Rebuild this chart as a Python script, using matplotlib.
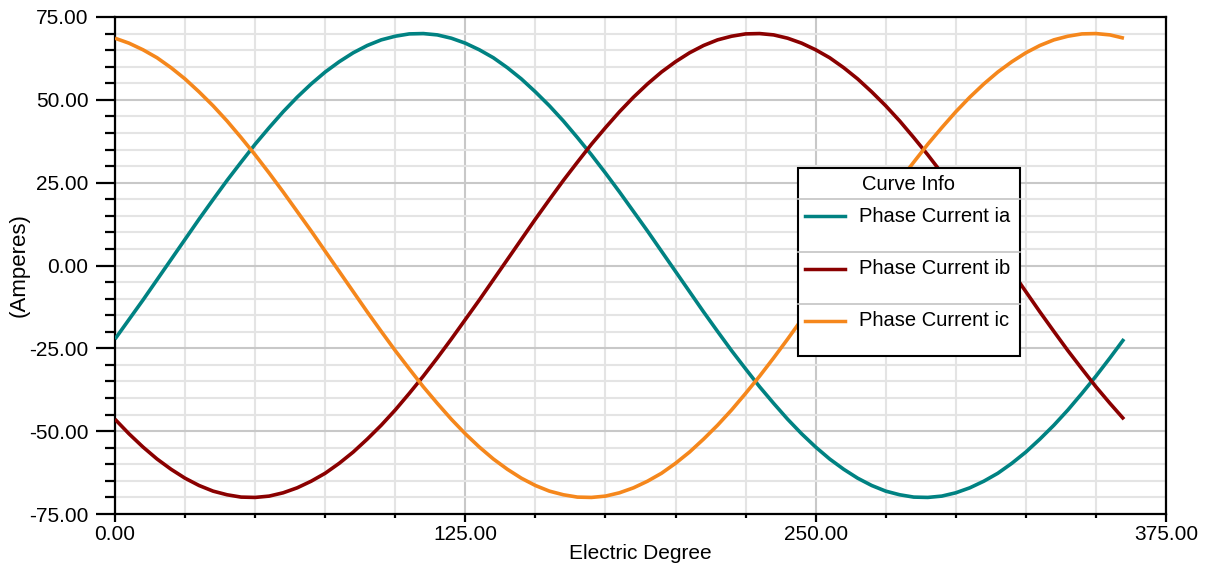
import numpy as np
import matplotlib
matplotlib.use("Agg")
import matplotlib.pyplot as plt
from matplotlib.ticker import MultipleLocator, FormatStrFormatter
from matplotlib.patches import Rectangle
from matplotlib.lines import Line2D

plt.rcParams['font.family'] = ['Liberation Sans', 'DejaVu Sans']

# electric degree, sampled every 5 deg
deg = np.arange(0, 365, 5)

ia = [-22.2, -16.3, -10.4, -4.3, 1.8, 7.9, 14.0, 19.9, 25.7, 31.2,
      36.6, 41.6, 46.4, 50.8, 54.8, 58.4, 61.5, 64.2, 66.4, 68.1,
      69.2, 69.9, 70.0, 69.6, 68.6, 67.1, 65.1, 62.7, 59.7, 56.3,
      52.4, 48.2, 43.6, 38.6, 33.4, 27.9, 22.2, 16.3, 10.4, 4.3,
      -1.8, -7.9, -14.0, -19.9, -25.7, -31.2, -36.6, -41.6, -46.4, -50.8,
      -54.8, -58.4, -61.5, -64.2, -66.4, -68.1, -69.2, -69.9, -70.0, -69.6,
      -68.6, -67.1, -65.1, -62.7, -59.7, -56.3, -52.4, -48.2, -43.6, -38.6,
      -33.4, -27.9, -22.2]

ib = [-46.4, -50.8, -54.8, -58.4, -61.5, -64.2, -66.4, -68.1, -69.2, -69.9,
      -70.0, -69.6, -68.6, -67.1, -65.1, -62.7, -59.7, -56.3, -52.4, -48.2,
      -43.6, -38.6, -33.4, -27.9, -22.2, -16.3, -10.4, -4.3, 1.8, 7.9,
      14.0, 19.9, 25.7, 31.2, 36.6, 41.6, 46.4, 50.8, 54.8, 58.4,
      61.5, 64.2, 66.4, 68.1, 69.2, 69.9, 70.0, 69.6, 68.6, 67.1,
      65.1, 62.7, 59.7, 56.3, 52.4, 48.2, 43.6, 38.6, 33.4, 27.9,
      22.2, 16.3, 10.4, 4.3, -1.8, -7.9, -14.0, -19.9, -25.7, -31.2,
      -36.6, -41.6, -46.4]

ic = [68.6, 67.1, 65.1, 62.7, 59.7, 56.3, 52.4, 48.2, 43.6, 38.6,
      33.4, 27.9, 22.2, 16.3, 10.4, 4.3, -1.8, -7.9, -14.0, -19.9,
      -25.7, -31.2, -36.6, -41.6, -46.4, -50.8, -54.8, -58.4, -61.5, -64.2,
      -66.4, -68.1, -69.2, -69.9, -70.0, -69.6, -68.6, -67.1, -65.1, -62.7,
      -59.7, -56.3, -52.4, -48.2, -43.6, -38.6, -33.4, -27.9, -22.2, -16.3,
      -10.4, -4.3, 1.8, 7.9, 14.0, 19.9, 25.7, 31.2, 36.6, 41.6,
      46.4, 50.8, 54.8, 58.4, 61.5, 64.2, 66.4, 68.1, 69.2, 69.9,
      70.0, 69.6, 68.6]

names = ["Phase Current ia", "Phase Current ib", "Phase Current ic"]
colors = ["#008282", "#8a0000", "#f5871c"]

W, H = 1211, 572
fig = plt.figure(figsize=(W / 100, H / 100), dpi=100)
ax = fig.add_axes([115 / W, 1 - 514 / H, 1051 / W, 497 / H])

for y, c in zip([ia, ib, ic], colors):
    ax.plot(deg, y, color=c, lw=2.6, zorder=3, solid_capstyle='butt')

ax.set_xlim(0, 375)
ax.set_ylim(-75, 75)
ax.xaxis.set_major_locator(MultipleLocator(125))
ax.xaxis.set_minor_locator(MultipleLocator(25))
ax.yaxis.set_major_locator(MultipleLocator(25))
ax.yaxis.set_minor_locator(MultipleLocator(5))
ax.xaxis.set_major_formatter(FormatStrFormatter('%.2f'))
ax.yaxis.set_major_formatter(FormatStrFormatter('%.2f'))

ax.grid(which='minor', color='#e4e4e4', lw=1.5, zorder=0)
ax.grid(which='major', color='#c8c8c8', lw=1.5, zorder=0)
ax.set_axisbelow(True)

for s in ax.spines.values():
    s.set_linewidth(1.6)
    s.set_color('black')

ax.tick_params(axis='y', which='major', length=14, width=1.6, labelsize=15, pad=5)
ax.tick_params(axis='y', which='minor', length=7, width=1.6)
ax.tick_params(axis='x', which='major', length=6, width=1.6, labelsize=15, pad=2)
ax.tick_params(axis='x', which='minor', length=3, width=1.6)

ax.set_xlabel("Electric Degree", fontsize=15, labelpad=0)
ax.set_ylabel("(Amperes)", fontsize=16)
ax.yaxis.set_label_coords(-0.081, 0.5)


# legend panel drawn in pixel coordinates
def px(x, y):
    return x / W, 1 - y / H


box_l, box_r, box_t, box_b = 798, 1020, 168, 356
x0, y0 = px(box_l, box_b)
x1, y1 = px(box_r, box_t)
ax.add_patch(Rectangle((x0, y0), x1 - x0, y1 - y0, transform=fig.transFigure,
                       facecolor='white', edgecolor='black', lw=1.5, zorder=10))
tx, ty = px((box_l + box_r) / 2, 185)
ax.text(tx, ty, "Curve Info", transform=fig.transFigure, ha='center', va='center',
        fontsize=14.5, zorder=11)
for sep in [199, 252, 304]:
    _, sy = px(0, sep)
    ax.add_line(Line2D([x0, x1], [sy, sy], transform=fig.transFigure,
                       color='#c4c4c4', lw=1.2, zorder=11))
for name, c, ly in zip(names, colors, [216, 269, 321]):
    lx0, yy = px(805, ly)
    lx1, _ = px(845, ly)
    ax.add_line(Line2D([lx0, lx1], [yy, yy], transform=fig.transFigure,
                       color=c, lw=2.5, zorder=11))
    tx, _ = px(859, ly)
    ax.text(tx, yy, name, transform=fig.transFigure, ha='left', va='center',
            fontsize=14.5, zorder=11)

fig.savefig("out.png", dpi=100)
